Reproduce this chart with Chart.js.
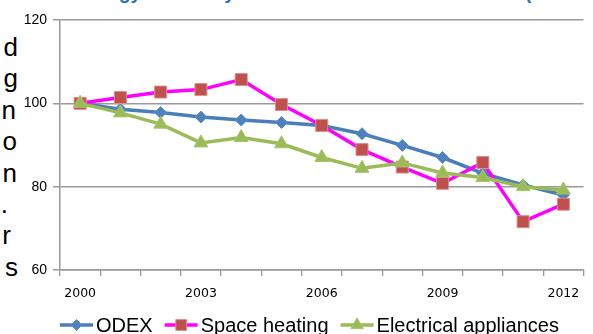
<!DOCTYPE html>
<html>
<head>
<meta charset="utf-8">
<script src="https://cdn.jsdelivr.net/npm/chart.js@4.4.1/dist/chart.umd.min.js"></script>
<style>
  html, body { margin: 0; padding: 0; background: #fff; width: 593px; height: 334px; overflow: hidden; }
  body { position: relative; font-family: "Liberation Sans", Arial, sans-serif; }
  #chart { position: absolute; left: 0; top: 0; }
  #title { position: absolute; left: 76px; top: -17px; white-space: nowrap;
           font: bold 19.2px/20px "Liberation Sans", Arial, sans-serif; color: #2471B5; }
  #side { position: absolute; left: 0; top: 32px; width: 20px; overflow: hidden;
          font: 26px/31.4px "Liberation Sans", Arial, sans-serif; color: #000; }
  #side div { text-align: right; white-space: nowrap; }
</style>
</head>
<body>
<div id="title">Energy efficiency trends in the residential sector (2000-2012)</div>
<div id="side">
  <div style="padding-right:2px">d</div>
  <div style="padding-right:2px">g</div>
  <div style="padding-right:4px">n</div>
  <div style="padding-right:3px">o</div>
  <div style="padding-right:3px">n</div>
  <div style="padding-right:12px">.</div>
  <div style="padding-right:9px">r</div>
  <div style="padding-right:2px">s</div>
</div>
<canvas id="chart" width="593" height="334"></canvas>
<script>
// Index values, 2000 = 100
const years = ['2000', '2001', '2002', '2003', '2004', '2005', '2006',
               '2007', '2008', '2009', '2010', '2011', '2012'];
const labelledYears = ['2000', '2003', '2006', '2009', '2012'];
const yTicks = [60, 80, 100, 120];

const odex = [100, 98.6, 97.8, 96.7, 96.0, 95.4, 94.7, 92.7, 89.9, 87.0, 83.2, 80.4, 78.0];
const spaceHeating = [100, 101.4, 102.7, 103.3, 105.7, 99.7, 94.7, 88.9, 84.7, 80.8, 85.8, 71.6, 75.8];
const electricalAppliances = [100, 97.7, 95.0, 90.5, 91.8, 90.3, 87.0, 84.4, 85.7, 83.3, 82.2, 80.0, 79.2];

const GRID = '#9a9a9a';

// Legend drawn as line + marker, centred under the plot
const lineLegend = {
  id: 'lineLegend',
  afterDraw(chart) {
    const ctx = chart.ctx;
    const y = 325;
    let x = 60;
    ctx.save();
    ctx.font = '20px "Liberation Sans", Arial, sans-serif';
    ctx.textBaseline = 'middle';
    ctx.textAlign = 'left';
    chart.data.datasets.forEach(ds => {
      ctx.strokeStyle = ds.borderColor;
      ctx.lineWidth = ds.borderWidth;
      ctx.beginPath();
      ctx.moveTo(x, y);
      ctx.lineTo(x + 33, y);
      ctx.stroke();
      ctx.fillStyle = ds.pointBackgroundColor;
      ctx.strokeStyle = ds.pointBorderColor;
      ctx.lineWidth = 1;
      Chart.helpers.drawPoint(ctx, {
        pointStyle: ds.pointStyle, radius: ds.pointRadius * 0.9,
        borderWidth: 1, rotation: 0
      }, x + 16.5, y);
      ctx.fillStyle = '#000';
      ctx.fillText(ds.label, x + 36, y + 1);
      x += 36 + ctx.measureText(ds.label).width + 12;
    });
    ctx.restore();
  }
};

new Chart(document.getElementById('chart'), {
  type: 'line',
  data: {
    labels: years,
    datasets: [
      {
        label: 'ODEX', data: odex, order: 2,
        borderColor: '#4A7EBB', borderWidth: 3.5, tension: 0,
        pointStyle: 'rectRot', pointRadius: 6,
        pointBackgroundColor: '#4F81BD', pointBorderColor: '#5b8cc6', pointBorderWidth: 1
      },
      {
        label: 'Space heating', data: spaceHeating, order: 1,
        borderColor: '#FF00FF', borderWidth: 3.5, tension: 0,
        pointStyle: 'rect', pointRadius: 8.5,
        pointBackgroundColor: '#C0504D', pointBorderColor: '#dc8f8d', pointBorderWidth: 1
      },
      {
        label: 'Electrical appliances', data: electricalAppliances, order: 0,
        borderColor: '#9BBB59', borderWidth: 3.5, tension: 0,
        pointStyle: 'triangle', pointRadius: 8,
        pointBackgroundColor: '#9BBB59', pointBorderColor: '#a6c46a', pointBorderWidth: 1
      }
    ]
  },
  options: {
    responsive: false,
    animation: false,
    devicePixelRatio: 1,
    layout: { padding: { top: 20, left: 0, right: 0, bottom: 0 } },
    plugins: { legend: { display: false }, tooltip: { enabled: false } },
    scales: {
      x: {
        offset: true,
        grid: { offset: true, drawOnChartArea: false, drawTicks: true, tickLength: 6, color: GRID, lineWidth: 1.3 },
        border: { color: GRID, width: 1.5 },
        ticks: {
          autoSkip: false, maxRotation: 0, minRotation: 0, padding: 10, color: '#000',
          font: { family: '"DejaVu Sans", Verdana, sans-serif', size: 12.5 },
          callback(v, i) { const l = years[i]; return labelledYears.includes(l) ? l : ''; }
        },
        afterFit(s) { s.height = 64; }
      },
      y: {
        min: yTicks[0], max: yTicks[yTicks.length - 1],
        afterBuildTicks(s) { s.ticks = yTicks.map(v => ({ value: v })); },
        ticks: { padding: 6, color: '#000', font: { family: '"Liberation Sans", Arial, sans-serif', size: 14 } },
        grid: { color: GRID, lineWidth: 1.5, tickLength: 7 },
        border: { color: GRID, width: 1.5 },
        afterFit(s) { s.width = 60; }
      }
    }
  },
  plugins: [lineLegend]
});
</script>
</body>
</html>
